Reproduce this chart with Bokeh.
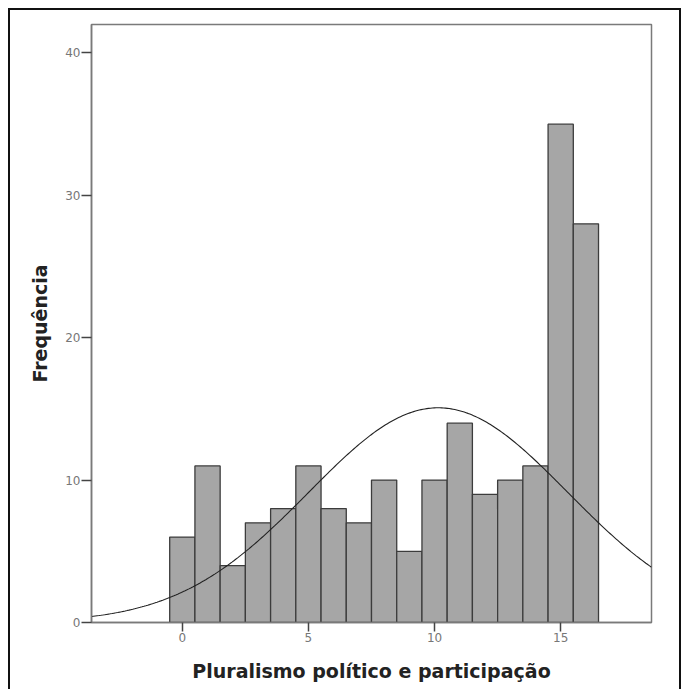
import numpy as np
from bokeh.plotting import figure
from bokeh.models import ColumnDataSource, Range1d, FixedTicker, InlineStyleSheet
from bokeh.embed import file_html
from bokeh.resources import INLINE

# Data
bin_centers = [0, 1, 2, 3, 4, 5, 6, 7, 8, 9, 10, 11, 12, 13, 14, 15, 16]
counts = [6, 11, 4, 7, 8, 11, 8, 7, 10, 5, 10, 14, 9, 10, 11, 35, 28]
x_ticks = [0, 5, 10, 15]
y_ticks = [0, 10, 20, 30, 40]
x_title = "Pluralismo político e participação"
y_title = "Frequência"

bin_width = 1.0
centers = np.array(bin_centers, dtype=float)
freq = np.array(counts, dtype=float)
n = freq.sum()
mean = (centers * freq).sum() / n
sd = np.sqrt(((centers - mean) ** 2 * freq).sum() / (n - 1))

src = ColumnDataSource(dict(
    left=centers - bin_width / 2,
    right=centers + bin_width / 2,
    top=freq,
    bottom=np.zeros_like(freq),
))

x0, x1 = -3.6, 18.6
p = figure(width=683, height=689, output_backend="svg", toolbar_location=None,
           x_range=Range1d(x0, x1), y_range=Range1d(0, 42),
           min_border_left=91, min_border_right=32, min_border_top=24, min_border_bottom=67)
p.background_fill_color = "white"
p.border_fill_color = "white"
p.outline_line_color = "#7a7a7a"
p.outline_line_width = 1.5
p.grid.visible = False

p.quad(left="left", right="right", top="top", bottom="bottom", source=src,
       fill_color="#a6a6a6", line_color="#3c3c3c", line_width=1.3)

xs = np.linspace(x0, x1, 300)
ys = n * bin_width / (sd * np.sqrt(2 * np.pi)) * np.exp(-0.5 * ((xs - mean) / sd) ** 2)
p.line(xs, ys, line_color="#222222", line_width=1.1)

for ax in (p.xaxis[0], p.yaxis[0]):
    ax.axis_line_color = "#7a7a7a"
    ax.axis_line_width = 1.5
    ax.major_tick_line_color = "#444444"
    ax.major_tick_line_width = 1.5
    ax.minor_tick_line_color = None
    ax.major_tick_in = 0
    ax.major_label_text_font = "DejaVu Sans"
    ax.major_label_text_font_size = "12px"
    ax.major_label_text_color = "#777777"
    ax.axis_label_text_font = "DejaVu Sans"
    ax.axis_label_text_font_style = "bold"
    ax.axis_label_text_font_size = "19px"
    ax.axis_label_text_color = "#222222"

p.xaxis.ticker = FixedTicker(ticks=x_ticks)
p.yaxis.ticker = FixedTicker(ticks=y_ticks)
p.xaxis.major_tick_out = 9
p.yaxis.major_tick_out = 10
p.xaxis.major_label_standoff = 1
p.yaxis.major_label_standoff = 1
p.xaxis.axis_label = x_title
p.yaxis.axis_label = y_title
p.xaxis.axis_label_standoff = 15
p.yaxis.axis_label_standoff = 11

p.stylesheets = [InlineStyleSheet(css=""":host { position: relative; }
:host::after { content: ''; position: absolute; left: 8px; top: 8px; right: 2px; bottom: 0px;
  border-left: 2px solid #111; border-top: 2px solid #111; border-right: 2px solid #111;
  pointer-events: none; }""")]

open("out.html", "w").write(file_html(p, INLINE))
